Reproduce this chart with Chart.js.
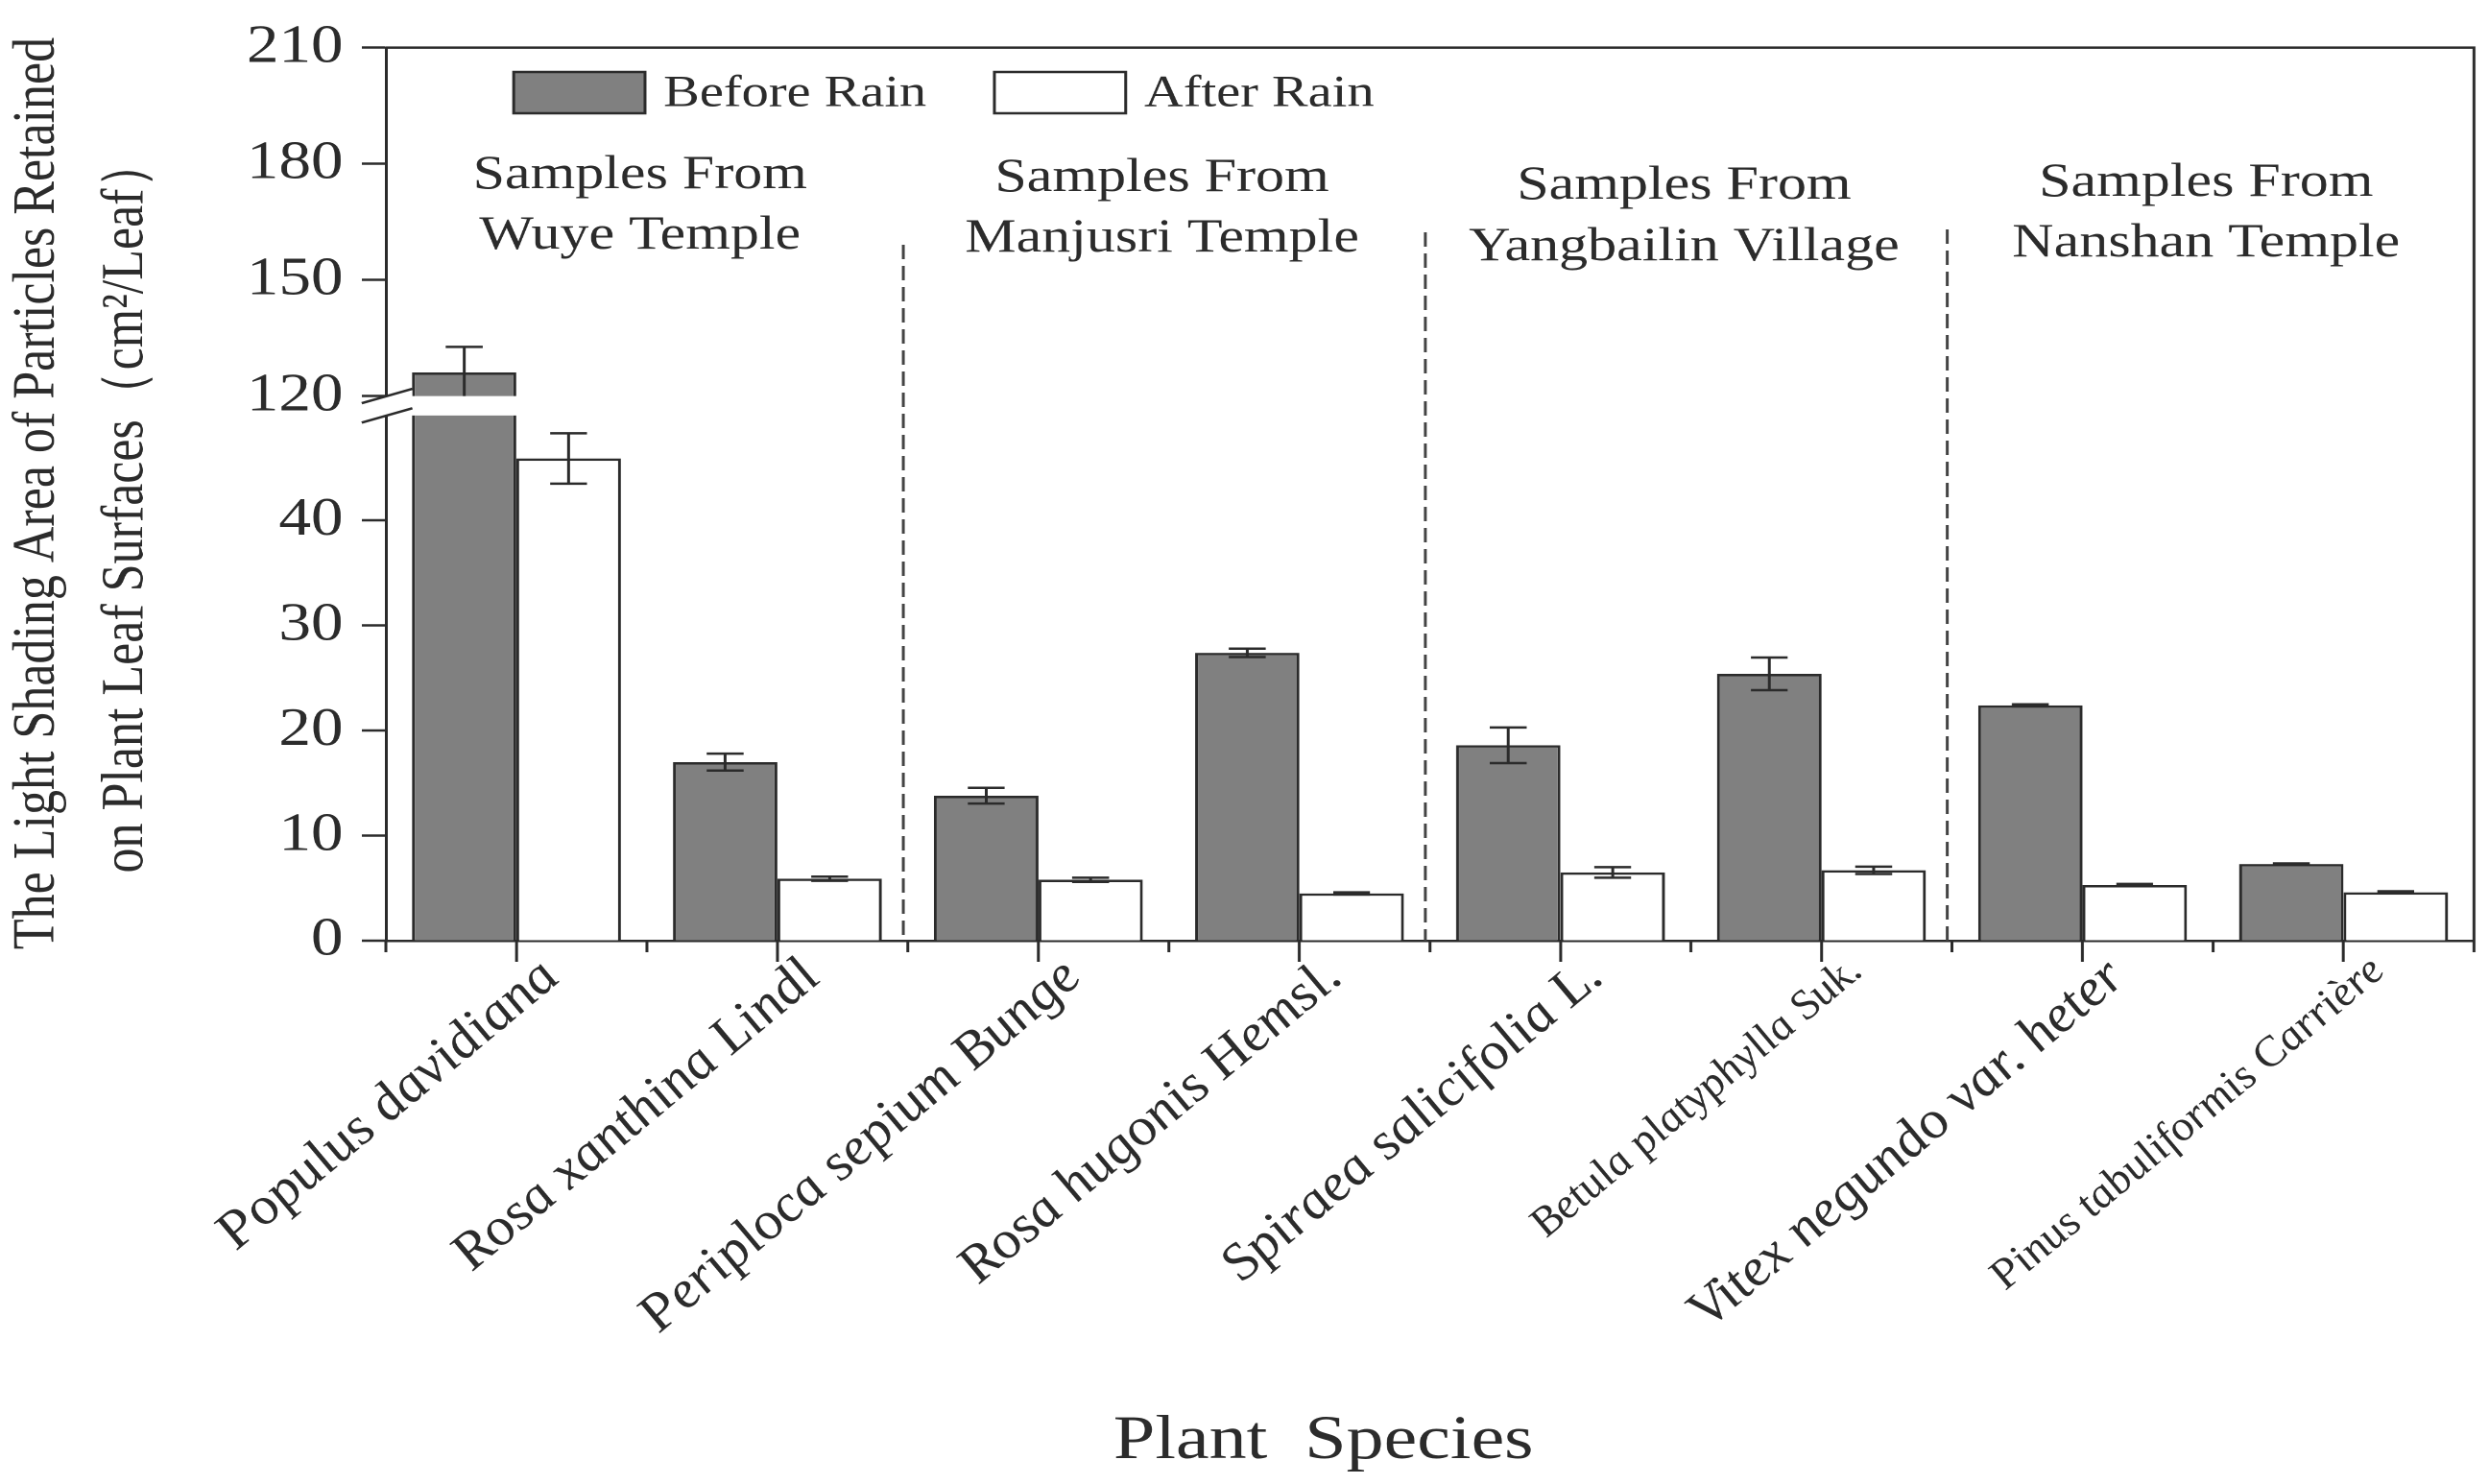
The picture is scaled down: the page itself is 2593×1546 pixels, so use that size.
<!DOCTYPE html>
<html lang="en">
<head>
<meta charset="UTF-8">
<title>Light shading area of particles retained on leaf surfaces</title>
<script src="https://cdn.jsdelivr.net/npm/chart.js@4/dist/chart.umd.min.js"></script>
<style>
  html, body { margin: 0; padding: 0; background: #fff; }
  #chart { display: block; }
</style>
</head>
<body>
<!-- the original figure is stretched sideways (~1.2x): the canvas is laid out
     2161 wide and widened to 2593 by its inline style -->
<canvas id="chart" width="2161" height="1546" style="width:2593px;height:1546px"></canvas>
<script>
// species on the x axis
const species = [
  'Populus davidiana',
  'Rosa xanthina Lindl',
  'Periploca sepium Bunge',
  'Rosa hugonis Hemsl.',
  'Spiraea salicifolia L.',
  'Betula platyphylla Suk.',
  'Vitex negundo var. heter',
  'Pinus tabuliformis Carrière'
];

// cm2 per leaf
const beforeRain = [126.1, 17.0, 13.8, 27.4, 18.6, 25.4, 22.4, 7.3];
const beforeErr  = [6.6, 0.8, 0.75, 0.4, 1.7, 1.55, 0.1, 0.05];
const afterRain  = [45.9, 5.9, 5.8, 4.5, 6.5, 6.7, 5.3, 4.6];
const afterErr   = [2.4, 0.2, 0.2, 0.1, 0.5, 0.35, 0.1, 0.1];

// broken y axis: lower part 0-50, upper part starts at 120
const lowerTicks = [0, 10, 20, 30, 40];
const upperTicks = [120, 150, 180, 210];

const groups = [
  ['Samples From', 'Wuye Temple'],
  ['Samples From', 'Manjusri Temple'],
  ['Samples From', 'Yangbailin Village'],
  ['Samples From', 'Nanshan Temple']
];

const yTitle = ['The Light Shading Area of Particles Retained', 'on Plant Leaf Surfaces（cm²/Leaf）'];
const xTitle = 'Plant  Species';

const INK = '#2b2b2b';
const SERIF = '"Liberation Serif", "Times New Roman", serif';
const LOW_MAX = 50;
const HIGH_MIN = 115;   // a little below 120 leaves room for the break
const BREAK_AT = upperTicks[0];
const LINE = 2.5;

// each dataset only shows inside its own axis segment, error bars included
const segmentClip = {
  id: 'segmentClip',
  beforeDatasetDraw(chart, args) {
    const ctx = chart.ctx;
    const a = chart.chartArea;
    const s = chart.scales[args.meta.yAxisID];
    let top, bottom;
    if (s.id === 'y2') {
      top = a.top - 4;
      bottom = s.getPixelForValue(BREAK_AT);
    } else {
      top = s.top;
      bottom = a.bottom + 4;
    }
    ctx.save();
    ctx.beginPath();
    ctx.rect(a.left, top, a.right - a.left, bottom - top);
    ctx.clip();
  },
  afterDatasetDraw(chart, args) {
    const ctx = chart.ctx;
    const ds = chart.data.datasets[args.index];
    const s = chart.scales[args.meta.yAxisID];
    if (ds.errors) {
      ctx.strokeStyle = INK;
      ctx.lineWidth = LINE;
      args.meta.data.forEach((bar, i) => {
        const v = ds.data[i], e = ds.errors[i];
        const yHi = s.getPixelForValue(v + e);
        const yLo = s.getPixelForValue(v - e);
        const cap = 16;
        ctx.beginPath();
        ctx.moveTo(bar.x, yHi); ctx.lineTo(bar.x, yLo);
        ctx.moveTo(bar.x - cap, yHi); ctx.lineTo(bar.x + cap, yHi);
        ctx.moveTo(bar.x - cap, yLo); ctx.lineTo(bar.x + cap, yLo);
        ctx.stroke();
      });
    }
    ctx.restore();
  }
};

const decor = {
  id: 'decor',
  afterDraw(chart) {
    const ctx = chart.ctx;
    const a = chart.chartArea;
    const xs = chart.scales.x;
    const step = xs.getPixelForValue(1) - xs.getPixelForValue(0);
    ctx.save();

    // frame: top and right side
    ctx.strokeStyle = INK;
    ctx.lineWidth = LINE;
    ctx.beginPath();
    ctx.moveTo(a.left, a.top); ctx.lineTo(a.right, a.top); ctx.lineTo(a.right, a.bottom);
    ctx.stroke();

    // minor ticks between species
    ctx.beginPath();
    for (let k = 0; k <= species.length; k++) {
      const px = xs.getPixelForValue(0) + (k - 0.5) * step;
      ctx.moveTo(px, a.bottom);
      ctx.lineTo(px, a.bottom + 12);
    }
    ctx.stroke();

    // dashed separators between sampling sites
    const sepTop = [255, 242, 239];
    ctx.strokeStyle = '#444';
    ctx.setLineDash([15, 7]);
    [1, 3, 5].forEach((k, j) => {
      const px = xs.getPixelForValue(k) + step / 2 - 4;
      ctx.beginPath();
      ctx.moveTo(px, sepTop[j]);
      ctx.lineTo(px, a.bottom);
      ctx.stroke();
    });
    ctx.setLineDash([]);

    // legend, one row inside the plot
    ctx.font = '47px ' + SERIF;
    ctx.textAlign = 'left';
    ctx.textBaseline = 'middle';
    let lx = a.left + 111;
    chart.data.datasets.slice(0, 2).forEach((ds) => {
      ctx.fillStyle = ds.backgroundColor;
      ctx.fillRect(lx, 75, 114, 43);
      ctx.strokeStyle = INK;
      ctx.lineWidth = LINE;
      ctx.strokeRect(lx, 75, 114, 43);
      ctx.fillStyle = INK;
      ctx.fillText(ds.label, lx + 114 + 16, 98);
      lx += 114 + 16 + ctx.measureText(ds.label).width + 59;
    });

    // site labels
    const rowY = [[183, 246], [186, 249], [194, 258], [191, 254]];
    ctx.fillStyle = INK;
    ctx.font = '50px ' + SERIF;
    ctx.textAlign = 'center';
    groups.forEach((g, i) => {
      const cx = (xs.getPixelForValue(2 * i) + xs.getPixelForValue(2 * i + 1)) / 2 - 6;
      ctx.fillText(g[0], cx, rowY[i][0]);
      ctx.fillText(g[1], cx, rowY[i][1]);
    });

    // y title, two rotated lines
    ctx.font = '52px ' + SERIF;
    [[33, 514], [110, 527]].forEach((p, i) => {
      ctx.save();
      ctx.translate(p[0], p[1]);
      ctx.rotate(-Math.PI / 2);
      ctx.fillText(yTitle[i], 0, 0);
      ctx.restore();
    });

    // x title
    ctx.font = '65px ' + SERIF;
    ctx.textBaseline = 'alphabetic';
    ctx.fillText(xTitle, 1149, 1519);

    // axis break marks
    const x0 = a.left;
    const yU = chart.scales.y2.getPixelForValue(BREAK_AT);
    const yL = chart.scales.y.getPixelForValue(LOW_MAX);
    const dl = 21, dr = 23, rise = 7.5;
    ctx.fillStyle = '#fff';
    ctx.beginPath();
    ctx.moveTo(x0 - dl, yU + rise); ctx.lineTo(x0 + dr, yU - rise);
    ctx.lineTo(x0 + dr, yL - rise); ctx.lineTo(x0 - dl, yL + rise);
    ctx.closePath();
    ctx.fill();
    ctx.strokeStyle = INK;
    ctx.lineWidth = LINE;
    ctx.beginPath();
    ctx.moveTo(x0 - dl, yU + rise); ctx.lineTo(x0 + dr, yU - rise);
    ctx.moveTo(x0 - dl, yL + rise); ctx.lineTo(x0 + dr, yL - rise);
    ctx.stroke();

    ctx.restore();
  }
};

const barStyle = { borderColor: INK, borderWidth: LINE, categoryPercentage: 0.8, barPercentage: 1.0 };

const yCommon = {
  position: 'left',
  stack: 'broken',
  stacked: false,
  grid: { drawOnChartArea: false, drawTicks: true, tickLength: 21, tickWidth: LINE, tickColor: INK },
  border: { display: true, color: INK, width: LINE },
  ticks: { padding: 16, color: INK, font: { family: SERIF, size: 56 } },
  afterFit: (s) => { s.width = 335; }
};

new Chart(document.getElementById('chart'), {
  type: 'bar',
  data: {
    labels: species,
    datasets: [
      Object.assign({ label: 'Before Rain', data: beforeRain, errors: beforeErr, yAxisID: 'y', stack: 'before', backgroundColor: '#808080' }, barStyle),
      Object.assign({ label: 'After Rain', data: afterRain, errors: afterErr, yAxisID: 'y', stack: 'after', backgroundColor: '#ffffff' }, barStyle),
      // same series again on the upper segment, only the part above the break shows
      Object.assign({ label: 'Before Rain (upper)', data: beforeRain, errors: beforeErr, yAxisID: 'y2', stack: 'before', backgroundColor: '#808080' }, barStyle)
    ]
  },
  options: {
    responsive: false,
    animation: false,
    devicePixelRatio: 2,
    events: [],
    layout: { padding: { top: 34, right: 13, bottom: 0, left: 0 } },
    plugins: {
      tooltip: { enabled: false },
      legend: { display: false }
    },
    scales: {
      x: {
        type: 'category',
        offset: true,
        grid: { drawOnChartArea: false, offset: false, drawTicks: true, tickLength: 22, tickWidth: LINE, tickColor: INK },
        border: { display: true, color: INK, width: LINE },
        ticks: {
          autoSkip: false,
          minRotation: 45,
          maxRotation: 45,
          padding: -14,
          labelOffset: 30,
          color: INK,
          font: (c) => ({ family: SERIF, style: 'italic', size: (c.index === 5 || c.index === 7) ? 42 : 53 })
        },
        afterFit: (s) => { s.height = 566; }
      },
      y: Object.assign({}, yCommon, {
        min: 0,
        max: LOW_MAX,
        stackWeight: 557,
        afterBuildTicks: (s) => { s.ticks = lowerTicks.map(v => ({ value: v })); }
      }),
      y2: Object.assign({}, yCommon, {
        min: HIGH_MIN,
        max: upperTicks[upperTicks.length - 1],
        stackWeight: 390,
        afterBuildTicks: (s) => { s.ticks = upperTicks.map(v => ({ value: v })); }
      })
    }
  },
  plugins: [segmentClip, decor]
});
</script>
</body>
</html>
